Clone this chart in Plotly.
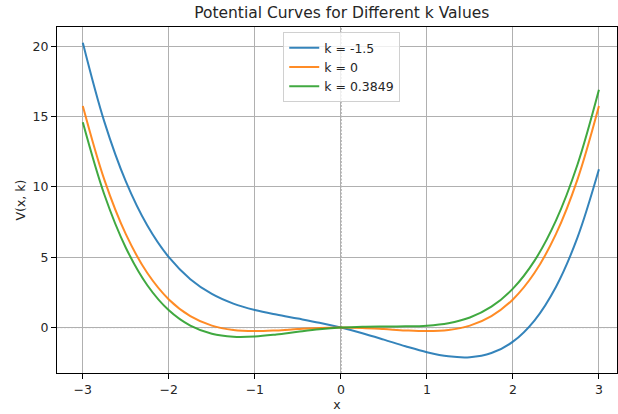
import plotly.graph_objects as go

x_vals = [-3.0, -2.75, -2.5, -2.25, -2.0, -1.75, -1.5, -1.25, -1.0, -0.75, -0.5, -0.25,
          0.0, 0.25, 0.5, 0.75, 1.0, 1.25, 1.5, 1.75, 2.0, 2.25, 2.5, 2.75, 3.0]

v_k_neg15 = [20.25, 14.642, 10.391, 7.251, 5.0, 3.439, 2.391, 1.704, 1.25, 0.923, 0.641, 0.345,
             0.0, -0.405, -0.859, -1.327, -1.75, -2.046, -2.109, -1.812, -1.0, 0.501, 2.891, 6.392, 11.25]

v_k_0 = [15.75, 10.517, 6.641, 3.876, 2.0, 0.814, 0.141, -0.171, -0.25, -0.202, -0.109, -0.030,
         0.0, -0.030, -0.109, -0.202, -0.25, -0.171, 0.141, 0.814, 2.0, 3.876, 6.641, 10.517, 15.75]

v_k_03849 = [14.595, 9.459, 5.678, 3.010, 1.230, 0.140, -0.437, -0.652, -0.635, -0.491, -0.302, -0.127,
             0.0, 0.066, 0.083, 0.087, 0.135, 0.310, 0.718, 1.487, 2.770, 4.742, 7.603, 11.576, 16.905]

series = [
    ("k = -1.5", v_k_neg15, "#1f77b4"),
    ("k = 0", v_k_0, "#ff7f0e"),
    ("k = 0.3849", v_k_03849, "#2ca02c"),
]

fig = go.Figure()
for name, vals, color in series:
    fig.add_trace(go.Scatter(x=x_vals, y=vals, mode="lines", name=name, opacity=0.9,
                             line=dict(color=color, width=2, shape="spline", smoothing=1.0)))

# zero reference lines
fig.add_shape(type="line", xref="paper", yref="y", x0=0, x1=1, y0=0, y1=0,
              line=dict(color="black", width=0.7, dash="2px,1.5px"), layer="below")
fig.add_shape(type="line", xref="x", yref="paper", x0=0, x1=0, y0=0, y1=1,
              line=dict(color="black", width=0.7, dash="2px,1.5px"), layer="below")

font_family = "DejaVu Sans"
fig.update_layout(
    width=618, height=414,
    margin=dict(l=57, r=1, t=27, b=41),
    paper_bgcolor="white", plot_bgcolor="white",
    font=dict(family=font_family, size=12, color="#262626"),
    title=dict(text="Potential Curves for Different k Values", x=0.553, xanchor="center",
               y=0.97, yanchor="middle", font=dict(size=15.5, color="#262626")),
    showlegend=True,
    legend=dict(x=0.404, y=0.985, xanchor="left", yanchor="top",
                bgcolor="rgba(255,255,255,0.8)", bordercolor="#d0d0d0", borderwidth=1,
                font=dict(size=12.5), itemwidth=30, tracegroupgap=0),
)
fig.update_xaxes(range=[-3.3, 3.21], tickvals=[-3, -2, -1, 0, 1, 2, 3], automargin=False,
                 showgrid=True, gridcolor="#b0b0b0", gridwidth=1,
                 zeroline=False, showline=True, linecolor="black", linewidth=1, mirror=True,
                 ticks="outside", ticklen=5, tickcolor="black",
                 title=dict(text="x", standoff=2, font=dict(size=12.5)), tickfont=dict(size=12.5))
fig.update_yaxes(range=[-3.23, 21.37], tickvals=[0, 5, 10, 15, 20], automargin=False,
                 showgrid=True, gridcolor="#b0b0b0", gridwidth=1,
                 zeroline=False, showline=True, linecolor="black", linewidth=1, mirror=True,
                 ticks="outside", ticklen=5, tickcolor="black",
                 title=dict(text="V(x, k)", standoff=4, font=dict(size=12.5)), tickfont=dict(size=12.5))

fig.write_html("out.html", config={"displayModeBar": False},
               post_script="document.body.style.margin='0';document.body.style.overflow='hidden';")
